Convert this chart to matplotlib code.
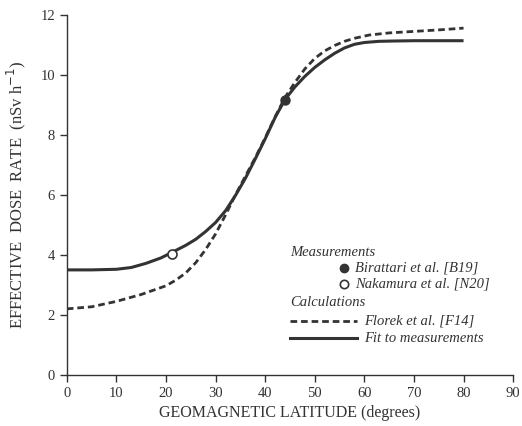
import matplotlib
matplotlib.use('agg')
import matplotlib.pyplot as plt
from matplotlib.lines import Line2D

plt.rcParams['font.family'] = ['Liberation Serif', 'DejaVu Serif']

# values
fit_lat = [0, 5, 10, 13, 16, 19, 22, 24, 26, 28, 30, 32, 34, 36, 38, 40, 42, 44,
           46, 48, 50, 52, 54, 56, 58, 60, 63, 66, 70, 75, 80]
fit_dose = [3.50, 3.50, 3.52, 3.58, 3.72, 3.90, 4.15, 4.32, 4.52, 4.78, 5.08, 5.47,
            5.98, 6.55, 7.20, 7.87, 8.58, 9.18, 9.60, 9.95, 10.25, 10.50, 10.72,
            10.90, 11.02, 11.08, 11.12, 11.13, 11.14, 11.14, 11.14]
florek_lat = [0, 5, 10, 15, 20, 22, 24, 26, 28, 30, 32, 34, 36, 38, 40, 42, 44,
              46, 48, 50, 52, 54, 56, 58, 61, 65, 70, 75, 80]
florek_dose = [2.20, 2.27, 2.45, 2.68, 2.97, 3.16, 3.40, 3.74, 4.18, 4.70, 5.33,
               6.00, 6.62, 7.24, 7.90, 8.60, 9.25, 9.75, 10.20, 10.55, 10.80,
               10.98, 11.12, 11.22, 11.33, 11.40, 11.45, 11.50, 11.56]
birattari = (44, 9.15)
nakamura = (21.3, 4.02)

xticks = list(range(0, 91, 10))
yticks = list(range(0, 13, 2))

ink = '#333333'

fig = plt.figure(figsize=(5.22, 4.26), dpi=100)
ax = fig.add_axes([0.128, 0.12, 0.855, 0.845])

ax.plot(fit_lat, fit_dose, color=ink, lw=2.2, solid_capstyle='butt', solid_joinstyle='round')
ax.plot(florek_lat, florek_dose, color=ink, lw=2.0, dashes=(2.4, 1.4))
ax.plot(*birattari, 'o', color=ink, ms=6.5)
ax.plot(*nakamura, 'o', mfc='white', mec=ink, mew=1.2, ms=6.5)

ax.set_xlim(0, 90)
ax.set_ylim(0, 12)
ax.set_xticks(xticks)
ax.set_yticks(yticks)
for s in ['top', 'right']:
    ax.spines[s].set_visible(False)
for s in ['left', 'bottom']:
    ax.spines[s].set_color(ink)
    ax.spines[s].set_linewidth(1.0)
ax.tick_params(colors=ink, labelsize=10.5, length=5, width=1.0, direction='out')
ax.set_xlabel('GEOMAGNETIC LATITUDE (degrees)', fontsize=11.5, color=ink, labelpad=4)
ax.set_ylabel('EFFECTIVE  DOSE  RATE  (nSv h$^{-1}$)', fontsize=12, color=ink, labelpad=9)

# hand-made legend, like the original figure
tr = fig.transFigure
W, H = 522.0, 426.0
def fx(px): return px / W
def fy(py): return 1 - py / H
tkw = dict(transform=tr, fontsize=10.5, style='italic', color=ink, va='center')
fig.text(fx(290), fy(252), 'Measurements', **tkw)
fig.add_artist(Line2D([fx(344)], [fy(268)], marker='o', color=ink, ms=6, transform=tr))
fig.text(fx(355), fy(268), 'Birattari et al. [B19]', **tkw)
fig.add_artist(Line2D([fx(344)], [fy(284)], marker='o', mfc='white', mec=ink, mew=1.2, ms=6, transform=tr))
fig.text(fx(355), fy(284), 'Nakamura et al. [N20]', **tkw)
fig.text(fx(290), fy(302), 'Calculations', **tkw)
fig.add_artist(Line2D([fx(290), fx(357)], [fy(321), fy(321)], color=ink, lw=2.0, dashes=(2.4, 1.4), transform=tr))
fig.text(fx(364), fy(321), 'Florek et al. [F14]', **tkw)
fig.add_artist(Line2D([fx(290), fx(357)], [fy(338), fy(338)], color=ink, lw=2.2, transform=tr))
fig.text(fx(364), fy(338), 'Fit to measurements', **tkw)

fig.savefig('out.png', dpi=100)
